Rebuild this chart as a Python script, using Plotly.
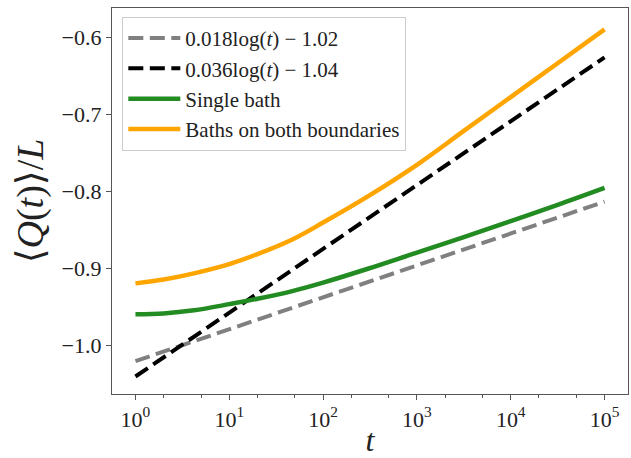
import plotly.graph_objects as go

# Fitted lines (straight in log t): endpoints t=1 and t=1e5
fit_t = [1, 1e5]
fit1_y = [-1.020, -0.8128]   # 0.018 log(t) - 1.02
fit2_y = [-1.040, -0.6255]   # 0.036 log(t) - 1.04

# Single bath
single_t = [1, 2, 4.2, 10, 20, 47, 100, 300, 1000, 3162, 10000, 31623, 100000]
single_y = [-0.959, -0.958, -0.954, -0.946, -0.939, -0.929, -0.918, -0.900, -0.879, -0.859, -0.838, -0.817, -0.795]

# Baths on both boundaries
both_t = [1, 2, 4.2, 10, 20, 47, 100, 300, 1000, 3162, 10000, 31623, 100000]
both_y = [-0.919, -0.914, -0.906, -0.894, -0.881, -0.862, -0.840, -0.806, -0.765, -0.721, -0.677, -0.633, -0.589]

tick_vals = [1, 10, 100, 1000, 10000, 100000]
tick_text = ["10<sup>0</sup>", "10<sup>1</sup>", "10<sup>2</sup>", "10<sup>3</sup>", "10<sup>4</sup>", "10<sup>5</sup>"]

font_family = "Liberation Serif, DejaVu Serif, serif"

fig = go.Figure()
fig.add_trace(go.Scatter(x=fit_t, y=fit1_y, mode="lines", name="0.018log(<i>t</i>) − 1.02",
                         line=dict(color="gray", width=4, dash="15px,6.5px"), legendgroup="a"))
fig.add_trace(go.Scatter(x=fit_t, y=fit2_y, mode="lines", name="0.036log(<i>t</i>) − 1.04",
                         line=dict(color="black", width=4, dash="15px,6.5px"), legendgroup="b"))
fig.add_trace(go.Scatter(x=single_t, y=single_y, mode="lines", name="Single bath",
                         line=dict(color="forestgreen", width=4.5, shape="spline"), legendgroup="c"))
fig.add_trace(go.Scatter(x=both_t, y=both_y, mode="lines", name="Baths on both boundaries",
                         line=dict(color="orange", width=4.5, shape="spline"), legendgroup="d"))

axis_common = dict(showline=True, linecolor="#555", linewidth=1.3, mirror=True, showgrid=False,
                   zeroline=False, ticks="outside", tickcolor="#555", ticklen=5,
                   tickfont=dict(family=font_family, size=22, color="#222"))

fig.update_xaxes(type="log", range=[-0.25, 5.25], tickvals=tick_vals, ticktext=tick_text,
                 title=dict(text="<i>t</i>", font=dict(family=font_family, size=32, color="#222"), standoff=2),
                 minor=dict(ticks="outside", ticklen=3, tickcolor="#555", showgrid=False),
                 **axis_common)
fig.update_yaxes(range=[-1.0627, -0.5613], tickvals=[-1.0, -0.9, -0.8, -0.7, -0.6],
                 ticktext=["−1.0", "−0.9", "−0.8", "−0.7", "−0.6"],
                 title=dict(text="⟨<i>Q</i>(<i>t</i>)⟩/<i>L</i>", font=dict(family=font_family, size=38, color="#222"), standoff=6),
                 **axis_common)

fig.update_layout(
    width=631, height=458,
    margin=dict(l=112, r=2, t=8, b=62),
    plot_bgcolor="white", paper_bgcolor="white",
    legend=dict(x=0.02, y=0.977, xanchor="left", yanchor="top",
                bgcolor="rgba(255,255,255,0.8)", bordercolor="#ccc", borderwidth=1,
                font=dict(family=font_family, size=21, color="#222"),
                itemwidth=52,
                tracegroupgap=0, traceorder="grouped"),
    showlegend=True,
)

fig.write_html("out.html")
